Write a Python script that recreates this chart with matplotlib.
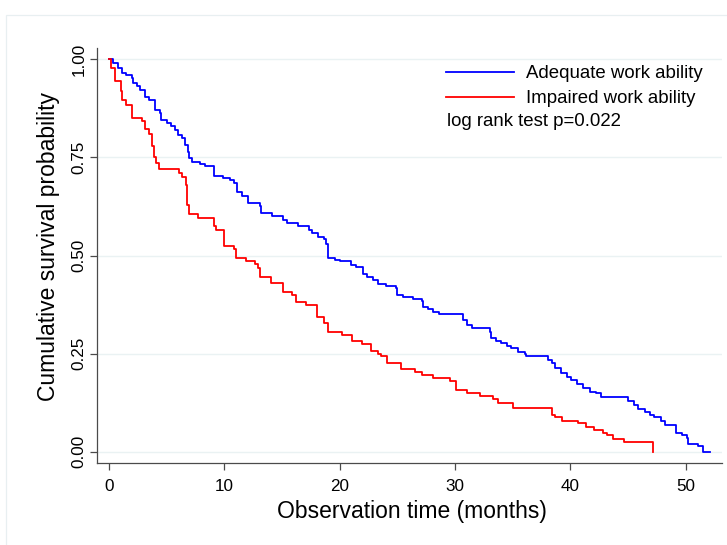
import matplotlib
matplotlib.use("Agg")
import matplotlib.pyplot as plt
from matplotlib.patches import Rectangle

plt.rcParams['font.family'] = ['Liberation Sans', 'DejaVu Sans']

# Kaplan-Meier step points (time in months, survival)
adequate_t = [0, 0.37, 0.8, 1.09, 1.5, 2.0, 2.1, 2.4, 2.7, 3.1, 3.5, 4.0, 4.4, 4.5,
              5.0, 5.4, 5.7, 6.0, 6.3, 6.58, 6.8, 6.96, 7.16, 7.88, 8.3, 9.1, 9.9,
              10.5, 10.8, 11.07, 11.5, 12.07, 13.1, 13.2, 14.1, 15.1, 15.4, 16.4,
              17.3, 17.6, 18.1, 18.6, 18.8, 18.96, 19.6, 20.0, 21.0, 21.4, 22.0,
              22.4, 22.9, 23.3, 24.0, 24.9, 25.0, 25.5, 26.4, 27.1, 27.2, 27.7,
              28.1, 28.6, 30.7, 31.0, 31.5, 33.0, 33.1, 33.55, 34.0, 34.5, 34.9,
              35.5, 36.07, 36.2, 38.1, 38.4, 38.7, 39.2, 39.7, 40.1, 40.56, 41.1,
              41.7, 42.2, 42.7, 45.0, 45.5, 45.9, 46.5, 46.9, 47.3, 47.9, 48.2,
              49.2, 49.7, 50.1, 50.2, 51.1, 51.5, 52.1]
adequate_s = [1.0, 0.99, 0.978, 0.966, 0.96, 0.952, 0.94, 0.932, 0.922, 0.905, 0.897,
              0.871, 0.863, 0.846, 0.837, 0.83, 0.82, 0.807, 0.799, 0.782, 0.765,
              0.748, 0.739, 0.734, 0.728, 0.703, 0.697, 0.693, 0.686, 0.663, 0.652,
              0.633, 0.626, 0.608, 0.602, 0.59, 0.582, 0.575, 0.565, 0.557, 0.546,
              0.541, 0.53, 0.494, 0.488, 0.485, 0.476, 0.47, 0.453, 0.446, 0.437,
              0.427, 0.422, 0.416, 0.399, 0.395, 0.388, 0.383, 0.368, 0.363, 0.357,
              0.352, 0.335, 0.323, 0.314, 0.306, 0.29, 0.282, 0.278, 0.269, 0.263,
              0.255, 0.249, 0.243, 0.233, 0.226, 0.212, 0.201, 0.191, 0.182, 0.172,
              0.161, 0.153, 0.149, 0.138, 0.13, 0.119, 0.108, 0.1, 0.093, 0.088,
              0.079, 0.068, 0.048, 0.043, 0.034, 0.019, 0.015, 0.0, 0.0]

impaired_t = [0, 0.16, 0.5, 1.0, 1.1, 1.47, 1.96, 2.83, 3.07, 3.5, 3.7, 3.9, 4.1,
              4.35, 6.09, 6.3, 6.67, 6.75, 6.96, 7.68, 9.1, 9.3, 9.97, 10.8, 11.0,
              11.9, 12.65, 12.94, 13.1, 14.04, 15.1, 15.9, 16.2, 17.1, 18.06, 18.6,
              19.0, 20.17, 21.1, 21.9, 22.7, 23.3, 23.6, 24.1, 25.3, 26.5, 27.1,
              28.1, 29.6, 30.1, 31.0, 32.2, 33.3, 33.7, 35.0, 38.4, 38.7, 39.3,
              40.7, 41.4, 42.1, 42.8, 43.2, 43.7, 44.7, 47.2]
impaired_s = [1.0, 0.978, 0.946, 0.92, 0.897, 0.884, 0.851, 0.843, 0.822, 0.81, 0.78,
              0.752, 0.735, 0.72, 0.71, 0.70, 0.68, 0.629, 0.607, 0.595, 0.575,
              0.565, 0.524, 0.516, 0.493, 0.485, 0.479, 0.467, 0.446, 0.43, 0.408,
              0.399, 0.382, 0.375, 0.344, 0.329, 0.306, 0.297, 0.282, 0.274, 0.257,
              0.25, 0.244, 0.227, 0.21, 0.204, 0.195, 0.187, 0.18, 0.157, 0.15,
              0.142, 0.133, 0.124, 0.11, 0.093, 0.089, 0.079, 0.072, 0.062, 0.056,
              0.048, 0.042, 0.033, 0.024, 0.0]

series_labels = ['Adequate work ability', 'Impaired work ability']
x_ticks = [0, 10, 20, 30, 40, 50]
y_ticks = [0, 0.25, 0.5, 0.75, 1.0]
y_ticklabels = ['0.00', '0.25', '0.50', '0.75', '1.00']

W, H = 727, 545
fig = plt.figure(figsize=(W / 100, H / 100), dpi=100)
fig.patch.set_facecolor('white')

# faint outer frame (Stata graph region)
fig.patches.append(Rectangle((5.5 / W, -0.1), 1.2, 1 - 14.7 / H + 0.1,
                             transform=fig.transFigure, fill=False,
                             edgecolor='#e8eff1', lw=0.9, zorder=0))

ax = fig.add_axes([97 / W, 1 - 463.3 / H, 625 / W, (463.3 - 47.7) / H])
ax.set_xlim(-1.05, 53.16)
ax.set_ylim(-0.030, 1.03)

for y in y_ticks:
    ax.axhline(y, color='#eaf2f3', lw=1.0, zorder=1)

ax.plot(adequate_t, adequate_s, drawstyle='steps-post', color='#0000ff', lw=1.3,
        label=series_labels[0], zorder=3)
ax.plot(impaired_t, impaired_s, drawstyle='steps-post', color='#ff0000', lw=1.3,
        label=series_labels[1], zorder=3)

for s in ['top', 'right']:
    ax.spines[s].set_visible(False)
for s in ['left', 'bottom']:
    ax.spines[s].set_color('#4a4a4a')
    ax.spines[s].set_linewidth(0.9)

ax.set_xticks(x_ticks)
ax.set_yticks(y_ticks)
ax.set_yticklabels(y_ticklabels, rotation=90, va='center')
ax.tick_params(axis='both', colors='#4a4a4a', labelcolor='black', length=5,
               width=0.9, labelsize=12.3)
ax.tick_params(axis='x', pad=6.5)
ax.tick_params(axis='y', pad=2.5)

ax.set_xlabel('Observation time (months)', fontsize=16.5, va='center')
ax.set_ylabel('Cumulative survival probability', fontsize=16.5, va='center')
ax.xaxis.set_label_coords(0.504, -0.117)
ax.yaxis.set_label_coords(-0.077, 0.522)

ax.legend(loc='upper left', bbox_to_anchor=(446 / W, 1 - 65 / H),
          bbox_transform=fig.transFigure, frameon=False, fontsize=13.4,
          handlelength=3.68, handletextpad=0.62, labelspacing=0.45,
          borderpad=0, borderaxespad=0)
fig.text(447 / W, 1 - 121 / H, 'log rank test p=0.022', fontsize=13.4,
         ha='left', va='center')

fig.savefig('out.png', dpi=100)
